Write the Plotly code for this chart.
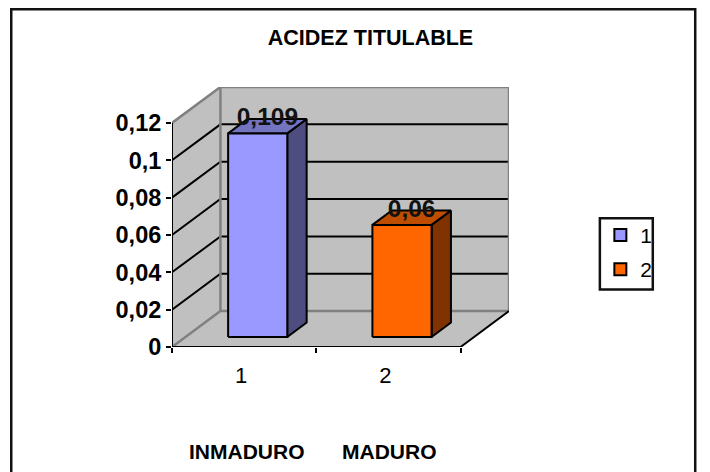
"""ACIDEZ TITULABLE - Excel style 3D column chart, drawn on plain cartesian axes"""
import plotly.graph_objects as go

FONT_FAMILY = "Liberation Sans, Arial, sans-serif"
WIDTH, HEIGHT = 710, 472

# data
categories = ["1", "2"]
values = [0.109, 0.06]
value_ticks = [0, 0.02, 0.04, 0.06, 0.08, 0.1, 0.12]
bar_colors = ["#9999FF", "#FF6600"]
side_colors = ["#4D4D80", "#803300"]
top_colors = ["#7373BF", "#BF4D00"]

# front plane of the plot in pixels, and how far back the rear wall sits
LEFT, RIGHT, TOP, BOTTOM = 172, 461, 123, 347.5
SHIFT_X, SHIFT_Y = 48.5, 36
Y_MAX = 0.12

# same shift in axis units
DEPTH_X = SHIFT_X / (RIGHT - LEFT) * 2
DEPTH_Y = SHIFT_Y / (BOTTOM - TOP) * Y_MAX
BAR_WIDTH = 0.41
BAR_FRONT, BAR_BACK = 0.28, 0.68
X0, X1 = 0.5, 2.5
GREY = "#C0C0C0"


def px_x(p):
    return (p - LEFT) / (RIGHT + SHIFT_X - LEFT)


def px_y(p):
    return (BOTTOM - p) / (BOTTOM - TOP + SHIFT_Y)


def proj(x, v, depth):
    """axis position of a point at a given depth (0 front, 1 back wall)"""
    return x + depth * DEPTH_X, v + depth * DEPTH_Y


def face(points, fill, line_color="black", width=2):
    xs, ys = zip(*[proj(*p) for p in points])
    return go.Scatter(x=xs, y=ys, mode="lines", fill="toself", fillcolor=fill,
                      line=dict(color=line_color, width=width), cliponaxis=False,
                      hoverinfo="skip", showlegend=False)


def edge(points, color, width=2):
    xs, ys = zip(*[proj(*p) for p in points])
    return go.Scatter(x=xs, y=ys, mode="lines", line=dict(color=color, width=width),
                      cliponaxis=False, hoverinfo="skip", showlegend=False)


fig = go.Figure()

# walls and floor
fig.add_trace(face([(X0, 0, 1), (X1, 0, 1), (X1, Y_MAX, 1), (X0, Y_MAX, 1), (X0, 0, 1)], GREY, GREY, 0))
fig.add_trace(face([(X0, 0, 0), (X0, 0, 1), (X0, Y_MAX, 1), (X0, Y_MAX, 0), (X0, 0, 0)], GREY, GREY, 0))
fig.add_trace(face([(X0, 0, 0), (X1, 0, 0), (X1, 0, 1), (X0, 0, 1), (X0, 0, 0)], GREY, GREY, 0))

# gridlines
for v in value_ticks[1:-1]:
    fig.add_trace(edge([(X0, v, 0), (X0, v, 1), (X1, v, 1)], "black"))
fig.add_trace(edge([(X0, 0, 0), (X0, 0, 1), (X1, 0, 1), (X1, Y_MAX, 1), (X0, Y_MAX, 1),
                    (X0, Y_MAX, 0)], "#808080", 2.5))
fig.add_trace(edge([(X0, 0, 1), (X0, Y_MAX, 1)], "#808080", 2.5))

# axis lines of the front plane
fig.add_trace(edge([(X0, Y_MAX, 0), (X0, 0, 0), (X1, 0, 0), (X1, 0, 1)], "black"))

# bars
for i, v in enumerate(values):
    c = i + 1
    a, b = c - BAR_WIDTH / 2, c + BAR_WIDTH / 2
    f, k = BAR_FRONT, BAR_BACK
    # legend entry only
    fig.add_trace(go.Scatter(x=[None], y=[None], mode="markers", name=categories[i],
                             legendgroup=categories[i],
                             marker=dict(symbol="square", size=12, color=bar_colors[i],
                                         line=dict(color="black", width=2))))
    fig.add_trace(face([(b, 0, f), (b, 0, k), (b, v, k), (b, v, f), (b, 0, f)], side_colors[i]))
    fig.add_trace(face([(a, v, f), (b, v, f), (b, v, k), (a, v, k), (a, v, f)], top_colors[i]))
    fig.add_trace(face([(a, 0, f), (b, 0, f), (b, v, f), (a, v, f), (a, 0, f)], bar_colors[i]))

# value labels on top of the bars
for i, v in enumerate(values):
    x, _ = proj(i + 1, v, (BAR_FRONT + BAR_BACK) / 2)
    _, y = proj(i + 1, v, BAR_BACK)
    fig.add_trace(go.Scatter(x=[x], y=[y], mode="text", text=[str(v).replace(".", ",")],
                             textposition="middle center", cliponaxis=False,
                             textfont=dict(family=FONT_FAMILY, size=24.5, color="#111111", weight=700),
                             hoverinfo="skip", showlegend=False))

fig.update_layout(
    width=WIDTH, height=HEIGHT,
    margin=dict(l=LEFT, r=WIDTH - RIGHT - SHIFT_X, t=TOP - SHIFT_Y, b=HEIGHT - BOTTOM, pad=0),
    paper_bgcolor="white", plot_bgcolor="rgba(0,0,0,0)",
    font=dict(family=FONT_FAMILY, color="black"),
    title=dict(text="ACIDEZ TITULABLE", x=370.5 / WIDTH, xref="container", xanchor="center",
               y=1 - 37 / HEIGHT, yref="container", yanchor="middle",
               font=dict(size=21.5, weight=700, color="black")),
    xaxis=dict(range=[X0, X1 + DEPTH_X], tickvals=[1, 2], ticktext=categories, showgrid=False,
               zeroline=False, ticks="", ticklabelstandoff=13, ticklabelshift=-3,
               tickfont=dict(size=22), showline=False,
               minor=dict(tickmode="array", tickvals=[0.5, 1.5, 2.5], ticks="outside", ticklen=5,
                          tickcolor="black", tickwidth=2, showgrid=False)),
    yaxis=dict(range=[0, Y_MAX + DEPTH_Y], tickvals=value_ticks,
               ticktext=[str(v).replace(".", ",") for v in value_ticks],
               showgrid=False, zeroline=False, ticks="outside", ticklen=5, tickwidth=2,
               tickcolor="black", tickfont=dict(size=23.5, weight=700), showline=False),
    legend=dict(x=px_x(601), y=px_y(215), xanchor="left", yanchor="top", bgcolor="rgba(0,0,0,0)",
                borderwidth=0, font=dict(size=21), tracegroupgap=4,
                itemsizing="constant", itemwidth=30),
    annotations=[
        dict(text="INMADURO", xref="paper", yref="paper", x=px_x(247), y=px_y(452), showarrow=False,
             xanchor="center", yanchor="middle", font=dict(size=21, weight=700)),
        dict(text="MADURO", xref="paper", yref="paper", x=px_x(390), y=px_y(452), showarrow=False,
             xanchor="center", yanchor="middle", font=dict(size=21, weight=700)),
    ],
    shapes=[
        dict(type="path", xref="paper", yref="paper",
             path=f"M {px_x(11)},{px_y(480)} L {px_x(11)},{px_y(9)} L {px_x(696)},{px_y(9)} L {px_x(696)},{px_y(480)}",
             line=dict(color="#111111", width=2.5)),
        dict(type="rect", xref="paper", yref="paper", x0=px_x(600.5), x1=px_x(653.5),
             y0=px_y(290), y1=px_y(218.5), line=dict(color="#111111", width=2.5)),
    ],
)

fig.write_html("out.html", config=dict(displayModeBar=False),
               post_script="document.body.style.margin='0';")
